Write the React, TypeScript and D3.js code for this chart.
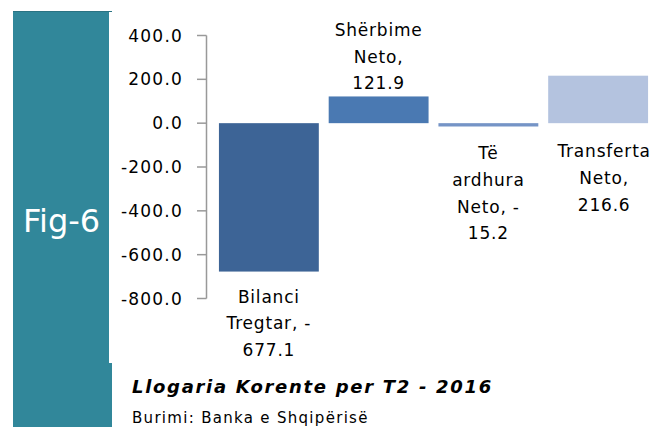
import React from "react";
import * as d3 from "d3";

// Llogaria Korente per T2 - 2016
const categories = ["Bilanci Tregtar", "Shërbime Neto", "Të ardhura Neto", "Transferta Neto"];
const values = [-677.1, 121.9, -15.2, 216.6];
const barColors = ["#3d6496", "#4a79b2", "#7594c6", "#b4c3df"];
const labelLines = [
  ["Bilanci", "Tregtar, -", "677.1"],
  ["Shërbime", "Neto,", "121.9"],
  ["Të", "ardhura", "Neto, -", "15.2"],
  ["Transferta", "Neto,", "216.6"],
];
const yTicks = [400, 200, 0, -200, -400, -600, -800];

const W = 672, H = 427;
const TEAL = "#31879a";

const App = () => {
  const x = d3.scaleBand()
    .domain(categories)
    .range([214, 653])
    .paddingInner(0.09)
    .paddingOuter(0.045);

  const y = d3.scaleLinear()
    .domain([-800, 400])
    .range([298.5, 35.5]);

  const fmt = (t: number) => t.toFixed(1); // plain hyphen minus, like the source
  const lineH = 26.8;

  // first-line baseline for each label block
  const labelTop = (i: number) => {
    const v = values[i];
    const n = labelLines[i].length;
    if (i === 0) return y(v) + 31;
    if (v >= 0 && i === 1) return y(v) - 7 - (n - 1) * lineH;
    return i === 2 ? 159 : 157; // placed beside the short bars
  };
  const labelX = (i: number) => (x(categories[i]) as number) + x.bandwidth() / 2 + (i === 3 ? 6 : 0);

  return (
    <svg width={W} height={H} style={{ position: "absolute", left: 0, top: 0 }}>
      <rect x={0} y={0} width={W} height={H} fill="#fff" />
      {/* side panel */}
      <rect x={13} y={11} width={96} height={H - 11} fill={TEAL} />
      <rect x={13} y={363} width={99} height={H - 363} fill={TEAL} />
      <line x1={13} x2={112} y1={11.5} y2={11.5} stroke="#2a7383" strokeWidth={1} />
      <text x={61.5} y={231.5} textAnchor="middle" fill="#fff" fontFamily="DejaVu Sans" fontSize={32}>
        Fig-6
      </text>

      {/* y axis */}
      <line x1={206.5} x2={206.5} y1={y(400)} y2={y(-800)} stroke="#999" strokeWidth={1.5} />
      {yTicks.map(t => (
        <g key={t}>
          <line x1={197} x2={206.5} y1={y(t)} y2={y(t)} stroke="#999" strokeWidth={1.5} />
          <text x={183} y={y(t)} dy="0.36em" textAnchor="end" fontFamily="DejaVu Sans"
            fontSize={17} letterSpacing={1.2} fill="#000">
            {fmt(t)}
          </text>
        </g>
      ))}

      {/* bars */}
      {categories.map((c, i) => {
        const v = values[i];
        return (
          <rect key={c} x={x(c)} y={y(Math.max(0, v))} width={x.bandwidth()}
            height={Math.abs(y(v) - y(0))} fill={barColors[i]} />
        );
      })}

      {/* data labels */}
      {categories.map((c, i) => (
        <text key={c} textAnchor="middle" fontFamily="DejaVu Sans" fontSize={17}
          letterSpacing={0.8} fill="#000">
          {labelLines[i].map((l, j) => (
            <tspan key={j} x={labelX(i)} y={labelTop(i) + j * lineH}>{l}</tspan>
          ))}
        </text>
      ))}

      {/* title & source */}
      <text x={132} y={393} fontFamily="DejaVu Sans" fontWeight="bold" fontStyle="italic"
        fontSize={18} letterSpacing={1.7} fill="#000">
        Llogaria Korente per T2 - 2016
      </text>
      <text x={132} y={423} fontFamily="DejaVu Sans" fontSize={15} letterSpacing={1.3} fill="#000">
        Burimi: Banka e Shqipërisë
      </text>
    </svg>
  );
};

export default App;
